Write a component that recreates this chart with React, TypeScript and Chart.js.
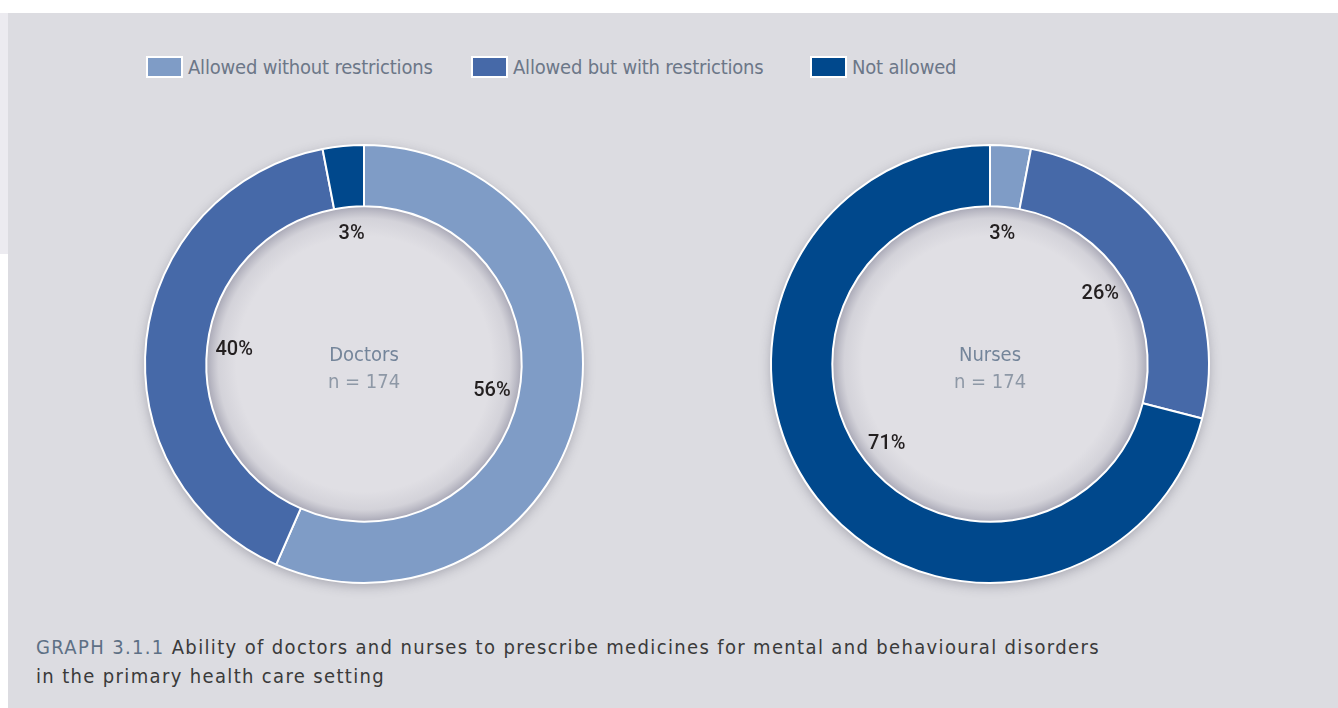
import React, { useEffect, useRef } from "react";
import { Chart, registerables } from "chart.js";

Chart.register(...registerables);

const categories = ["Allowed without restrictions", "Allowed but with restrictions", "Not allowed"];
const colors = ["#7f9cc6", "#4669a8", "#00488c"];
const doctorsValues = [56, 40, 3];
const nursesValues = [3, 26, 71];
const groupNames = ["Doctors", "Nurses"];
const sampleLabels = ["n = 174", "n = 174"];
const captionLead = "GRAPH 3.1.1";
const captionLines = [
  "Ability of doctors and nurses to prescribe medicines for mental and behavioural disorders",
  "in the primary health care setting",
];

const BG = "#dcdce1";
const NARROW = "'Liberation Sans Narrow', 'DejaVu Sans Condensed', 'Liberation Sans', sans-serif";

function Donut({ values, title, sample, left, top }: { values: number[]; title: string; sample: string; left: number; top: number }) {
  const ref = useRef<HTMLCanvasElement | null>(null);
  useEffect(() => {
    if (!ref.current) return;
    const decor = {
      id: "decor",
      beforeDatasetsDraw(chart: any) {
        const meta = chart.getDatasetMeta(0);
        const a0 = meta.data[0];
        if (!a0) return;
        const { x, y, outerRadius, innerRadius } = a0.getProps(["x", "y", "outerRadius", "innerRadius"], true);
        const ctx = chart.ctx;
        ctx.save();
        ctx.shadowColor = "rgba(60,60,80,0.35)";
        ctx.shadowBlur = 12;
        ctx.shadowOffsetY = 3;
        ctx.beginPath();
        ctx.arc(x, y, outerRadius, 0, Math.PI * 2);
        ctx.fillStyle = "#ffffff";
        ctx.fill();
        ctx.restore();
        ctx.save();
        ctx.beginPath();
        ctx.arc(x, y, innerRadius, 0, Math.PI * 2);
        ctx.fillStyle = "#e0dfe4";
        ctx.fill();
        const g = ctx.createRadialGradient(x, y, innerRadius - 30, x, y, innerRadius);
        g.addColorStop(0, "rgba(120,120,140,0)");
        g.addColorStop(0.6, "rgba(120,120,140,0.12)");
        g.addColorStop(1, "rgba(100,100,125,0.45)");
        ctx.fillStyle = g;
        ctx.fill();
        ctx.restore();
      },
      afterDatasetsDraw(chart: any) {
        const meta = chart.getDatasetMeta(0);
        const ctx = chart.ctx;
        const vals = chart.data.datasets[0].data as number[];
        ctx.save();
        ctx.textAlign = "center";
        ctx.textBaseline = "middle";
        let cx = 0, cy = 0;
        meta.data.forEach((arc: any, i: number) => {
          const p = arc.getProps(["x", "y", "startAngle", "endAngle", "innerRadius"], true);
          cx = p.x; cy = p.y;
          const mid = (p.startAngle + p.endAngle) / 2;
          const r = p.innerRadius - 27;
          ctx.font = "500 20px Roboto, 'Liberation Sans', sans-serif";
          ctx.fillStyle = "#231f20";
          ctx.fillText(vals[i] + "%", p.x + r * Math.cos(mid), p.y + r * Math.sin(mid));
        });
        ctx.font = "20px " + NARROW;
        ctx.fillStyle = "#74859a";
        ctx.fillText(title, cx, cy - 8);
        ctx.fillStyle = "#8e98a6";
        ctx.fillText(sample, cx, cy + 19);
        ctx.restore();
      },
    };
    const chart = new Chart(ref.current, {
      type: "doughnut",
      data: {
        labels: categories,
        datasets: [
          {
            data: values,
            backgroundColor: colors,
            borderColor: "#ffffff",
            borderWidth: 2,
          },
        ],
      },
      options: {
        responsive: false,
        animation: false,
        cutout: "72%",
        layout: { padding: 20 },
        plugins: { legend: { display: false }, tooltip: { enabled: false } },
      },
      plugins: [decor],
    });
    return () => chart.destroy();
  }, [values, title, sample]);
  return (
    <canvas
      ref={ref}
      width={480}
      height={480}
      style={{ position: "absolute", left, top, width: 480, height: 480 }}
    />
  );
}

export default function App() {
  const legendX = [146, 471, 810];
  return (
    <div style={{ position: "absolute", left: 0, top: 0, width: 1338, height: 708, background: "#ffffff", overflow: "hidden" }}>
      <div style={{ position: "absolute", left: 0, top: 13, width: 8, height: 241, background: "#ecebf0" }} />
      <div style={{ position: "absolute", left: 8, top: 13, width: 1330, height: 695, background: BG }} />
      {categories.map((c, i) => (
        <div
          key={c}
          style={{ position: "absolute", left: legendX[i], top: 55, height: 24, display: "flex", alignItems: "center", whiteSpace: "nowrap" }}
        >
          <div style={{ width: 33, height: 18, background: colors[i], border: "2px solid #ffffff", marginRight: 5 }} />
          <span style={{ font: "20px " + NARROW, color: "#6c7788", letterSpacing: "-0.2px" }}>{c}</span>
        </div>
      ))}
      <Donut values={doctorsValues} title={groupNames[0]} sample={sampleLabels[0]} left={124} top={124} />
      <Donut values={nursesValues} title={groupNames[1]} sample={sampleLabels[1]} left={750} top={124} />
      <div style={{ position: "absolute", left: 36, top: 633, font: "20px " + NARROW, color: "#3a3a3a", lineHeight: "29px", whiteSpace: "nowrap", letterSpacing: "1.35px" }}>
        <div>
          <span style={{ color: "#5e7085" }}>{captionLead}</span>
          <span>{"  " + captionLines[0]}</span>
        </div>
        <div>{captionLines[1]}</div>
      </div>
    </div>
  );
}
